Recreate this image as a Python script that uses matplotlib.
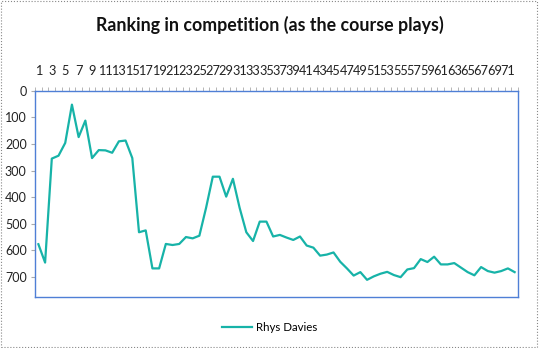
import matplotlib
matplotlib.use('Agg')
import matplotlib.pyplot as plt
from matplotlib.patches import Rectangle

plt.rcParams['font.family'] = ['Lato', 'DejaVu Sans']

# round number 1..72 and ranking after each round
rounds = list(range(1, 73))
ranking = [577, 646, 255, 244, 196, 52, 174, 112, 253, 223, 224, 233,
           190, 187, 253, 532, 525, 668, 668, 576, 580, 576, 550, 555,
           545, 440, 323, 323, 398, 331, 440, 532, 565, 492, 492, 548,
           542, 552, 561, 548, 582, 590, 620, 616, 608, 643, 668, 695,
           682, 711, 698, 688, 681, 693, 701, 672, 667, 633, 644, 624,
           653, 653, 648, 665, 682, 694, 663, 678, 684, 678, 668, 682]
tick_labels = [str(r) for r in rounds if r % 2 == 1]
series_name = 'Rhys Davies'

fig = plt.figure(figsize=(5.39, 3.48), dpi=100)
ax = fig.add_axes([0.065, 0.147, 0.896, 0.592])

ax.plot(rounds, ranking, color='#17b3a8', lw=1.6, label=series_name)

ax.set_xlim(0.5, 72.5)
ax.set_ylim(775, 0)
ax.set_yticks(range(0, 701, 100))
ax.set_xticks([r for r in rounds if r % 2 == 1])
ax.set_xticklabels(tick_labels)
ax.set_xticks([r + 0.5 for r in range(0, 73)], minor=True)

ax.xaxis.tick_top()
ax.tick_params(axis='x', which='major', length=0, pad=10, labelsize=9.2, colors='#222222')
ax.tick_params(axis='x', which='minor', length=3, color='#aaaaaa', top=True, bottom=False)
ax.tick_params(axis='y', which='major', length=3, color='#aaaaaa', labelsize=9, labelcolor='#222222', pad=3)

for s in ax.spines.values():
    s.set_color('#4f7fd6')
    s.set_linewidth(1.0)

fig.suptitle('Ranking in competition (as the course plays)', fontsize=12.8,
             fontweight='bold', y=0.955, color='#111111')

fig.legend(loc='center', bbox_to_anchor=(0.5, 0.06), frameon=False, fontsize=8.3,
           handlelength=2.6, handletextpad=0.3)

fig.patches.append(Rectangle((0.002, 0.003), 0.995, 0.994, transform=fig.transFigure,
                             fill=False, edgecolor='#888888', lw=0.8, ls=':'))

fig.savefig('out.png', dpi=100)
